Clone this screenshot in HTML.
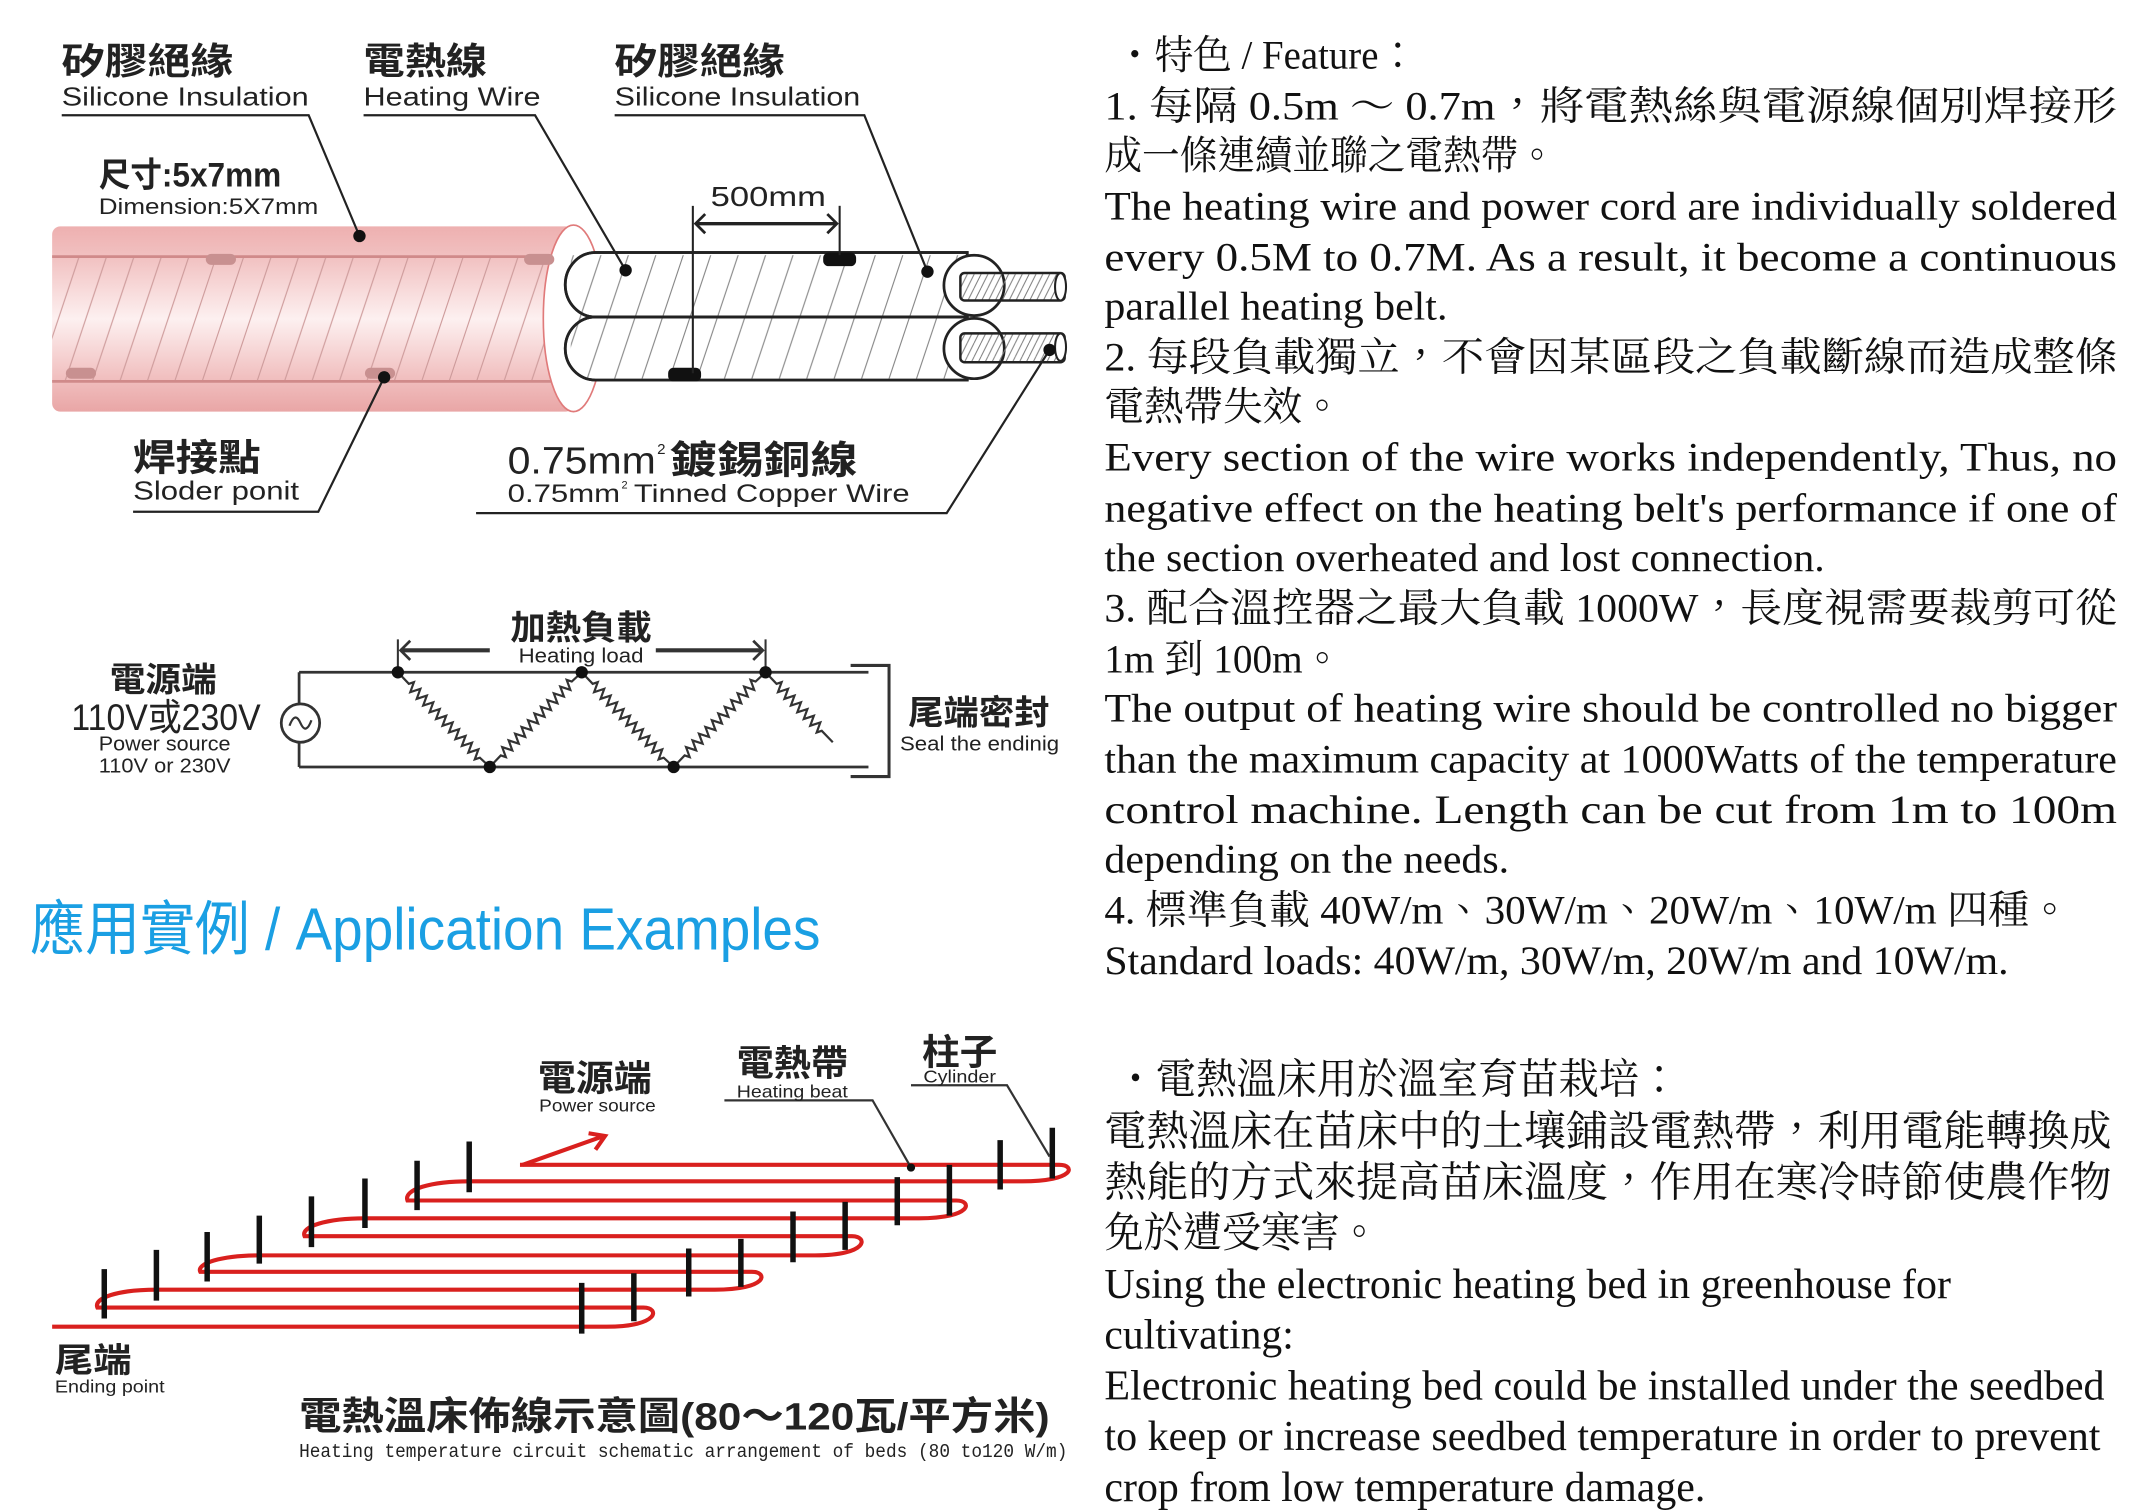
<!DOCTYPE html>
<html><head><meta charset="utf-8"><style>
html,body{margin:0;padding:0;background:#fff;}
svg{display:block;}
.s{font-family:"Liberation Serif","Noto Serif CJK TC","Noto Serif CJK SC",serif;fill:#111;}
.a{font-family:"Liberation Sans","Noto Sans CJK TC",sans-serif;fill:#222;}
.b{font-weight:bold;}
</style></head><body>
<svg width="2140" height="1511" viewBox="0 0 1559.8 1101.3" xmlns="http://www.w3.org/2000/svg">
<defs>
<linearGradient id="pk" x1="0" y1="0" x2="0" y2="1">
<stop offset="0" stop-color="#eeb0b0"/><stop offset="0.16" stop-color="#f1c0c0"/><stop offset="0.5" stop-color="#fdf0f0"/><stop offset="0.84" stop-color="#f0bcbc"/><stop offset="1" stop-color="#e9a6a6"/>
</linearGradient>
<pattern id="h1" patternUnits="userSpaceOnUse" width="20" height="60">
<path d="M-20 60L0 0M0 60L20 0M20 60L40 0" stroke="#c99" stroke-width="0.8"/>
</pattern>
<pattern id="h2" patternUnits="userSpaceOnUse" width="20" height="60">
<path d="M-20 60L0 0M0 60L20 0M20 60L40 0" stroke="#666" stroke-width="0.8"/>
</pattern>
<pattern id="h3" patternUnits="userSpaceOnUse" width="5" height="10">
<path d="M-5 10L0 0M0 10L5 0M5 10L10 0" stroke="#777" stroke-width="0.7"/>
</pattern>
</defs>

<!-- ===== Cable diagram ===== -->
<rect x="38" y="165" width="380" height="135" fill="url(#pk)" rx="6"/>
<rect x="38" y="187" width="380" height="91" fill="url(#h1)"/>
<line x1="38" y1="187" x2="418" y2="187" stroke="#d08a8a" stroke-width="2"/>
<line x1="38" y1="278" x2="418" y2="278" stroke="#d08a8a" stroke-width="2"/>
<ellipse cx="418" cy="232" rx="22" ry="68" fill="#fff" stroke="#e07a7a" stroke-width="1.2"/>
<rect x="150" y="185" width="22" height="8" rx="4" fill="#c89090"/>
<rect x="382" y="185" width="22" height="8" rx="4" fill="#c89090"/>
<rect x="48" y="268" width="22" height="8" rx="4" fill="#c89090"/>
<rect x="266" y="268" width="22" height="8" rx="4" fill="#c89090"/>
<!-- white tubes -->
<path d="M434 184 H705 V231 H434 A22 23.5 0 0 1 434 184Z" fill="#fff" stroke="#222" stroke-width="2"/>
<path d="M434 231 H705 V277 H434 A22 23 0 0 1 434 231Z" fill="#fff" stroke="#222" stroke-width="2"/>
<rect x="416" y="186" width="289" height="90" fill="url(#h2)" opacity="0.8"/>
<path d="M434 184 H705 V231 H434 A22 23.5 0 0 1 434 184Z" fill="none" stroke="#222" stroke-width="2"/>
<path d="M434 231 H705 V277 H434 A22 23 0 0 1 434 231Z" fill="none" stroke="#222" stroke-width="2"/>
<circle cx="710" cy="208" r="22" fill="#fff" stroke="#222" stroke-width="2"/>
<circle cx="710" cy="254" r="22" fill="#fff" stroke="#222" stroke-width="2"/>
<rect x="700" y="199" width="76" height="20" rx="3" fill="url(#h3)" stroke="#222" stroke-width="1.8"/>
<rect x="700" y="243" width="76" height="21" rx="3" fill="url(#h3)" stroke="#222" stroke-width="1.8"/>
<ellipse cx="773" cy="209" rx="4" ry="10" fill="#fff" stroke="#222" stroke-width="1.5"/>
<ellipse cx="773" cy="253" rx="4" ry="10" fill="#fff" stroke="#222" stroke-width="1.5"/>
<rect x="600" y="184" width="24" height="10" rx="4" fill="#111"/>
<rect x="487" y="268" width="24" height="10" rx="4" fill="#111"/>
<!-- 500mm -->
<line x1="505" y1="150" x2="505" y2="272" stroke="#222" stroke-width="1.5"/>
<line x1="612" y1="150" x2="612" y2="186" stroke="#222" stroke-width="1.5"/>
<line x1="507" y1="163" x2="610" y2="163" stroke="#222" stroke-width="2.5"/>
<path d="M514 156 L507 163 L514 170 M603 156 L610 163 L603 170" fill="none" stroke="#222" stroke-width="2"/>
<text class="a" x="518" y="150" font-size="20" textLength="84" lengthAdjust="spacingAndGlyphs">500mm</text>
<!-- leaders -->
<g stroke="#222" stroke-width="1.6" fill="none">
<path d="M45 84 H225 L262 172"/>
<path d="M265 84 H390 L456 197"/>
<path d="M448 84 H630 L676 198"/>
<path d="M97 373 H232 L280 275"/>
<path d="M347 374 H690 L765 255"/>
</g>
<g fill="#111"><circle cx="262" cy="172" r="4.5"/><circle cx="456" cy="197" r="4.5"/><circle cx="676" cy="198" r="4.5"/><circle cx="280" cy="275" r="4.5"/><circle cx="765" cy="255" r="4.5"/></g>
<!-- labels -->
<text class="a b" x="45" y="54" font-size="27" textLength="125" lengthAdjust="spacingAndGlyphs">矽膠絕緣</text>
<text class="a" x="45" y="77" font-size="19" textLength="180" lengthAdjust="spacingAndGlyphs">Silicone Insulation</text>
<text class="a b" x="265" y="54" font-size="27" textLength="90" lengthAdjust="spacingAndGlyphs">電熱線</text>
<text class="a" x="265" y="77" font-size="19" textLength="129" lengthAdjust="spacingAndGlyphs">Heating Wire</text>
<text class="a b" x="448" y="54" font-size="27" textLength="124" lengthAdjust="spacingAndGlyphs">矽膠絕緣</text>
<text class="a" x="448" y="77" font-size="19" textLength="179" lengthAdjust="spacingAndGlyphs">Silicone Insulation</text>
<text class="a b" x="72" y="136" font-size="25" textLength="133" lengthAdjust="spacingAndGlyphs">尺寸:5x7mm</text>
<text class="a" x="72" y="156" font-size="16" textLength="160" lengthAdjust="spacingAndGlyphs">Dimension:5X7mm</text>
<text class="a b" x="97" y="343" font-size="27" textLength="93" lengthAdjust="spacingAndGlyphs">焊接點</text>
<text class="a" x="97" y="364" font-size="19" textLength="121" lengthAdjust="spacingAndGlyphs">Sloder ponit</text>
<text class="a" x="370" y="345" font-size="28" textLength="108" lengthAdjust="spacingAndGlyphs">0.75mm</text>
<text class="a" x="479" y="331" font-size="11">2</text>
<text class="a b" x="488" y="345" font-size="28" textLength="137" lengthAdjust="spacingAndGlyphs">鍍錫銅線</text>
<text class="a" x="370" y="366" font-size="18" textLength="82" lengthAdjust="spacingAndGlyphs">0.75mm</text>
<text class="a" x="453" y="356" font-size="8">2</text>
<text class="a" x="462" y="366" font-size="18" textLength="201" lengthAdjust="spacingAndGlyphs">Tinned Copper Wire</text>

<!-- ===== Circuit ===== -->
<g stroke="#333" stroke-width="2" fill="none">
<path d="M290 490 H633 M218 559 H633"/>
<path d="M218 490 V513 M218 541 V559"/>
<path d="M620 485 H648 V566 H620" stroke-width="2.2"/>
<line x1="290" y1="466" x2="290" y2="490" stroke-width="1.5"/>
<line x1="558" y1="466" x2="558" y2="490" stroke-width="1.5"/>
<path d="M292 474 H357 M478 474 H556" stroke-width="3"/>
<path d="M299 467 L292 474 L299 481 M549 467 L556 474 L549 481" stroke-width="2"/>
</g>
<line x1="218" y1="490" x2="290" y2="490" stroke="#333" stroke-width="2"/>
<circle cx="219" cy="527" r="14" fill="#fff" stroke="#333" stroke-width="2"/>
<path d="M211 529 Q215 518 219 527 Q223 536 227 525" fill="none" stroke="#333" stroke-width="1.6"/>
<g stroke="#333" stroke-width="1.6" fill="none" stroke-linejoin="miter">
<path d="M290 490 l8 8.4 l3.7 -1.2 l-2.65 7.25 l7.35 -2.35 l-2.65 7.25 l7.35 -2.35 l-2.65 7.25 l7.35 -2.35 l-2.65 7.25 l7.35 -2.35 l-2.65 7.25 l7.35 -2.35 l-2.65 7.25 l7.35 -2.35 l-2.65 7.25 l7.35 -2.35 l-2.65 7.25 l7.35 -2.35 l-2.65 7.25 l7.35 -2.35 l-2.65 7.25 l7.35 -2.35 l-2.65 7.25 l3.7 -1.2 L357 559"/>
<path d="M357 559 l8 -8.4 l3.7 1.2 l-2.65 -7.25 l7.35 2.35 l-2.65 -7.25 l7.35 2.35 l-2.65 -7.25 l7.35 2.35 l-2.65 -7.25 l7.35 2.35 l-2.65 -7.25 l7.35 2.35 l-2.65 -7.25 l7.35 2.35 l-2.65 -7.25 l7.35 2.35 l-2.65 -7.25 l7.35 2.35 l-2.65 -7.25 l7.35 2.35 l-2.65 -7.25 l7.35 2.35 l-2.65 -7.25 l3.7 1.2 L424 490"/>
<path d="M424 490 l8 8.4 l3.7 -1.2 l-2.65 7.25 l7.35 -2.35 l-2.65 7.25 l7.35 -2.35 l-2.65 7.25 l7.35 -2.35 l-2.65 7.25 l7.35 -2.35 l-2.65 7.25 l7.35 -2.35 l-2.65 7.25 l7.35 -2.35 l-2.65 7.25 l7.35 -2.35 l-2.65 7.25 l7.35 -2.35 l-2.65 7.25 l7.35 -2.35 l-2.65 7.25 l7.35 -2.35 l-2.65 7.25 l3.7 -1.2 L491 559"/>
<path d="M491 559 l8 -8.4 l3.7 1.2 l-2.65 -7.25 l7.35 2.35 l-2.65 -7.25 l7.35 2.35 l-2.65 -7.25 l7.35 2.35 l-2.65 -7.25 l7.35 2.35 l-2.65 -7.25 l7.35 2.35 l-2.65 -7.25 l7.35 2.35 l-2.65 -7.25 l7.35 2.35 l-2.65 -7.25 l7.35 2.35 l-2.65 -7.25 l7.35 2.35 l-2.65 -7.25 l7.35 2.35 l-2.65 -7.25 l3.7 1.2 L558 490"/>
<path d="M558 490 l8 8.4 l3.7 -1.2 l-2.65 7.25 l7.35 -2.35 l-2.65 7.25 l7.35 -2.35 l-2.65 7.25 l7.35 -2.35 l-2.65 7.25 l7.35 -2.35 l-2.65 7.25 l7.35 -2.35 l-2.65 7.25 l7.35 -2.35 l-2.65 7.25 l3.7 -1.2 L607 541"/>
</g>
<g fill="#111"><circle cx="290" cy="490" r="4.5"/><circle cx="424" cy="490" r="4.5"/><circle cx="558" cy="490" r="4.5"/><circle cx="357" cy="559" r="4.5"/><circle cx="491" cy="559" r="4.5"/></g>
<text class="a b" x="372" y="466" font-size="25" textLength="103" lengthAdjust="spacingAndGlyphs">加熱負載</text>
<text class="a" x="378" y="483" font-size="15" textLength="91" lengthAdjust="spacingAndGlyphs">Heating load</text>
<text class="a b" x="80" y="504" font-size="25" textLength="78" lengthAdjust="spacingAndGlyphs">電源端</text>
<text class="a" x="52" y="532" font-size="27" textLength="138" lengthAdjust="spacingAndGlyphs">110V或230V</text>
<text class="a" x="72" y="547" font-size="15" textLength="96" lengthAdjust="spacingAndGlyphs">Power source</text>
<text class="a" x="72" y="563" font-size="15" textLength="96" lengthAdjust="spacingAndGlyphs">110V or 230V</text>
<text class="a b" x="662" y="528" font-size="25" textLength="103" lengthAdjust="spacingAndGlyphs">尾端密封</text>
<text class="a" x="656" y="547" font-size="15" textLength="116" lengthAdjust="spacingAndGlyphs">Seal the endinig</text>

<!-- ===== Title ===== -->
<text x="22" y="692" font-size="43" fill="#1a9fe3" font-family="Liberation Sans,'Noto Sans CJK TC',sans-serif" textLength="576" lengthAdjust="spacingAndGlyphs">應用實例 / Application Examples</text>

<!-- ===== Bed diagram ===== -->
<path d="M379 849 H772 C784 849 784 861 745 861 H342 C314 861 294 867 297 875 H697 C709 875 709 888 670 888 H266 C238 888 219 894 222 901 H621 C633 901 633 915 594 915 H189 C161 915 143 921 146 927 H548 C560 927 560 940 521 940 H114 C86 940 68 946 71 953 H469 C481 953 481 967 442 967 H38" fill="none" stroke="#d9201e" stroke-width="3"/>
<path d="M381 849 L440 828 M429 826 L441 828 L434 838" fill="none" stroke="#d9201e" stroke-width="3"/>
<g stroke="#111" stroke-width="4">
<line x1="767" y1="822" x2="767" y2="859"/><line x1="729" y1="831" x2="729" y2="867"/>
<line x1="692" y1="849" x2="692" y2="886"/><line x1="654" y1="858" x2="654" y2="893"/>
<line x1="616" y1="876" x2="616" y2="911"/><line x1="578" y1="883" x2="578" y2="920"/>
<line x1="540" y1="903" x2="540" y2="938"/><line x1="502" y1="910" x2="502" y2="945"/>
<line x1="462" y1="928" x2="462" y2="963"/><line x1="424" y1="935" x2="424" y2="972"/>
<line x1="342" y1="832" x2="342" y2="869"/><line x1="304" y1="846" x2="304" y2="882"/>
<line x1="266" y1="859" x2="266" y2="895"/><line x1="227" y1="872" x2="227" y2="909"/>
<line x1="189" y1="886" x2="189" y2="921"/><line x1="151" y1="898" x2="151" y2="934"/>
<line x1="114" y1="911" x2="114" y2="948"/><line x1="76" y1="925" x2="76" y2="961"/>
</g>
<g stroke="#333" stroke-width="1.6" fill="none">
<path d="M528 802 H636 L664 851"/>
<path d="M664 791 H734 L765 843"/>
</g>
<circle cx="664" cy="851" r="3" fill="#111"/>
<text class="a b" x="392" y="795" font-size="26" textLength="83" lengthAdjust="spacingAndGlyphs" fill="#333">電源端</text>
<text class="a" x="393" y="810" font-size="13" textLength="85" lengthAdjust="spacingAndGlyphs">Power source</text>
<text class="a b" x="537" y="784" font-size="26" textLength="81" lengthAdjust="spacingAndGlyphs">電熱帶</text>
<text class="a" x="537" y="800" font-size="13" textLength="81" lengthAdjust="spacingAndGlyphs">Heating beat</text>
<text class="a b" x="672" y="776" font-size="26" textLength="55" lengthAdjust="spacingAndGlyphs">柱子</text>
<text class="a" x="673" y="789" font-size="13" textLength="53" lengthAdjust="spacingAndGlyphs">Cylinder</text>
<text class="a b" x="40" y="1000" font-size="25" textLength="56" lengthAdjust="spacingAndGlyphs">尾端</text>
<text class="a" x="40" y="1015" font-size="13" textLength="80" lengthAdjust="spacingAndGlyphs">Ending point</text>
<text class="a b" x="218" y="1042" font-size="28" textLength="547" lengthAdjust="spacingAndGlyphs">電熱溫床佈線示意圖(80～120瓦/平方米)</text>
<text x="218" y="1062" font-size="14" fill="#222" font-family="Liberation Mono,monospace" textLength="560" lengthAdjust="spacingAndGlyphs">Heating temperature circuit schematic arrangement of beds (80 to120 W/m)</text>

<!-- ===== Right column ===== -->
<g class="s" font-size="29">
<text x="813" y="50" textLength="220" lengthAdjust="spacingAndGlyphs">・特色 / Feature：</text>
<text x="805" y="87" textLength="738" lengthAdjust="spacingAndGlyphs">1. 每隔 0.5m ～ 0.7m，將電熱絲與電源線個別焊接形</text>
<text x="805" y="123" textLength="329" lengthAdjust="spacingAndGlyphs">成一條連續並聯之電熱帶。</text>
<text x="805" y="160" textLength="738" lengthAdjust="spacingAndGlyphs">The heating wire and power cord are individually soldered</text>
<text x="805" y="197" textLength="738" lengthAdjust="spacingAndGlyphs">every 0.5M to 0.7M. As a result, it become a continuous</text>
<text x="805" y="233" textLength="250" lengthAdjust="spacingAndGlyphs">parallel heating belt.</text>
<text x="805" y="270" textLength="738" lengthAdjust="spacingAndGlyphs">2. 每段負載獨立，不會因某區段之負載斷線而造成整條</text>
<text x="805" y="306" textLength="173" lengthAdjust="spacingAndGlyphs">電熱帶失效。</text>
<text x="805" y="343" textLength="738" lengthAdjust="spacingAndGlyphs">Every section of the wire works independently, Thus, no</text>
<text x="805" y="380" textLength="738" lengthAdjust="spacingAndGlyphs">negative effect on the heating belt's performance if one of</text>
<text x="805" y="416" textLength="525" lengthAdjust="spacingAndGlyphs">the section overheated and lost connection.</text>
<text x="805" y="453" textLength="738" lengthAdjust="spacingAndGlyphs">3. 配合溫控器之最大負載 1000W，長度視需要裁剪可從</text>
<text x="805" y="490" textLength="173" lengthAdjust="spacingAndGlyphs">1m 到 100m。</text>
<text x="805" y="526" textLength="738" lengthAdjust="spacingAndGlyphs">The output of heating wire should be controlled no bigger</text>
<text x="805" y="563" textLength="738" lengthAdjust="spacingAndGlyphs">than the maximum capacity at 1000Watts of the temperature</text>
<text x="805" y="600" textLength="738" lengthAdjust="spacingAndGlyphs">control machine. Length can be cut from 1m to 100m</text>
<text x="805" y="636" textLength="295" lengthAdjust="spacingAndGlyphs">depending on the needs.</text>
<text x="805" y="673" textLength="704" lengthAdjust="spacingAndGlyphs">4. 標準負載 40W/m、30W/m、20W/m、10W/m 四種。</text>
<text x="805" y="710" textLength="659" lengthAdjust="spacingAndGlyphs">Standard loads: 40W/m, 30W/m, 20W/m and 10W/m.</text>
</g>
<g class="s" font-size="30.5">
<text x="813" y="797" textLength="411" lengthAdjust="spacingAndGlyphs">・電熱溫床用於溫室育苗栽培：</text>
<text x="805" y="835" textLength="734" lengthAdjust="spacingAndGlyphs">電熱溫床在苗床中的土壤鋪設電熱帶，利用電能轉換成</text>
<text x="805" y="872" textLength="734" lengthAdjust="spacingAndGlyphs">熱能的方式來提高苗床溫度，作用在寒冷時節使農作物</text>
<text x="805" y="909" textLength="200" lengthAdjust="spacingAndGlyphs">免於遭受寒害。</text>
<text x="805" y="946" textLength="617" lengthAdjust="spacingAndGlyphs">Using the electronic heating bed in greenhouse for</text>
<text x="805" y="983" textLength="138" lengthAdjust="spacingAndGlyphs">cultivating:</text>
<text x="805" y="1020" textLength="729" lengthAdjust="spacingAndGlyphs">Electronic heating bed could be installed under the seedbed</text>
<text x="805" y="1057" textLength="726" lengthAdjust="spacingAndGlyphs">to keep or increase seedbed temperature in order to prevent</text>
<text x="805" y="1094" textLength="438" lengthAdjust="spacingAndGlyphs">crop from low temperature damage.</text>
</g>
</svg>
</body></html>
